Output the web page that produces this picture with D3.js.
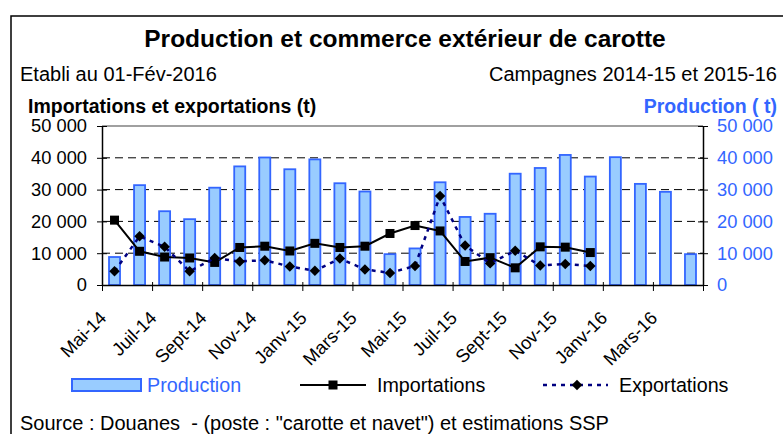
<!DOCTYPE html>
<html>
<head>
<meta charset="utf-8">
<script src="https://cdn.jsdelivr.net/npm/d3@7"></script>
<style>
  body { margin: 0; background: #fff; }
  svg text { font-family: "Liberation Sans", Arial, sans-serif; }
</style>
</head>
<body>
<div id="chart"></div>
<script>
// mois de campagne (mai 2014 -> avril 2016)
const mois = ["Mai-14", "Juin-14", "Juil-14", "Août-14", "Sept-14", "Oct-14", "Nov-14", "Déc-14",
  "Janv-15", "Févr-15", "Mars-15", "Avr-15", "Mai-15", "Juin-15", "Juil-15", "Août-15",
  "Sept-15", "Oct-15", "Nov-15", "Déc-15", "Janv-16", "Févr-16", "Mars-16", "Avr-16"];
const moisAffiches = ["Mai-14", "Juil-14", "Sept-14", "Nov-14", "Janv-15", "Mars-15",
  "Mai-15", "Juil-15", "Sept-15", "Nov-15", "Janv-16", "Mars-16"];

// tonnes
const production = [8800, 31400, 23200, 20700, 30600, 37300, 40100, 36400, 39500, 32000, 29400, 9700,
  11500, 32300, 21400, 22400, 35000, 36800, 40900, 34100, 40200, 31800, 29300, 9700];
const importations = [20400, 10600, 8800, 8500, 7100, 11800, 12200, 10700, 13100, 11800, 12200, 16200,
  18700, 17000, 7400, 8600, 5400, 12000, 11900, 10200];
const exportations = [4300, 15300, 12000, 4300, 8500, 7400, 7800, 5800, 4500, 8300, 4900, 3800,
  6000, 28000, 12400, 6800, 10800, 6100, 6600, 6000];

const yTicks = [0, 10000, 20000, 30000, 40000, 50000];
const gridTicks = [10000, 20000, 30000, 40000];

const blue = "#3366ff";
const width = 783, height = 434;
const margin = { top: 126, right: 80, bottom: 149, left: 102 };

const fr = d3.formatLocale({ decimal: ",", thousands: " ", grouping: [3], currency: ["", " €"] });
const fmt = fr.format(",");

const svg = d3.select("#chart").append("svg")
  .attr("width", width)
  .attr("height", height);

// cadre
svg.append("rect")
  .attr("x", 11).attr("y", 16)
  .attr("width", 900).attr("height", 600)
  .attr("fill", "none").attr("stroke", "#000").attr("stroke-width", 1.5);

const x = d3.scaleBand()
  .domain(mois)
  .range([margin.left, width - margin.right]);

const xPos = d3.scaleLinear()
  .domain([0, mois.length])
  .range([margin.left, width - margin.right]);

const y = d3.scaleLinear()
  .domain([0, 50000])
  .range([height - margin.bottom, margin.top]);

const yProd = d3.scaleLinear()
  .domain([0, 50000])
  .range([height - margin.bottom, margin.top]);

// titres
svg.append("text")
  .attr("x", 405).attr("y", 47)
  .attr("text-anchor", "middle")
  .style("font-size", "24.5px").style("font-weight", "bold")
  .text("Production et commerce extérieur de carotte");

svg.append("text")
  .attr("x", 20).attr("y", 81)
  .style("font-size", "20px")
  .text("Etabli au 01-Fév-2016");

svg.append("text")
  .attr("x", 777).attr("y", 81)
  .attr("text-anchor", "end")
  .style("font-size", "20px")
  .text("Campagnes 2014-15 et 2015-16");

svg.append("text")
  .attr("x", 28).attr("y", 113)
  .style("font-size", "19.5px").style("font-weight", "bold")
  .text("Importations et exportations (t)");

svg.append("text")
  .attr("x", 777).attr("y", 113)
  .attr("text-anchor", "end")
  .style("font-size", "19.5px").style("font-weight", "bold")
  .style("fill", blue)
  .text("Production ( t)");

// grille
svg.append("g")
  .selectAll("line")
  .data(gridTicks)
  .join("line")
  .attr("x1", margin.left).attr("x2", width - margin.right)
  .attr("y1", d => y(d)).attr("y2", d => y(d))
  .attr("stroke", "#000")
  .attr("stroke-dasharray", "8,5");

svg.append("line")
  .attr("x1", margin.left).attr("x2", width - margin.right)
  .attr("y1", y(50000)).attr("y2", y(50000))
  .attr("stroke", "#808080").attr("stroke-width", 1.5);

// barres production
const barW = x.bandwidth() * 0.44;
svg.append("g")
  .selectAll("rect")
  .data(production)
  .join("rect")
  .attr("x", (d, i) => x(mois[i]) + (x.bandwidth() - barW) / 2)
  .attr("y", d => yProd(d))
  .attr("width", barW)
  .attr("height", d => yProd(0) - yProd(d))
  .attr("fill", "#99ccff")
  .attr("stroke", blue)
  .attr("stroke-width", 1.8);

// axes
const axL = svg.append("g")
  .attr("transform", `translate(${margin.left},0)`)
  .call(d3.axisLeft(y).tickValues(yTicks).tickFormat(fmt).tickSize(5).tickPadding(10).tickSizeOuter(0));
axL.selectAll(".tick line").attr("x1", 5);
axL.selectAll("text").style("font-size", "18.3px").attr("fill", "#000");
axL.select(".domain").attr("stroke-width", 1.5);

const axR = svg.append("g")
  .attr("transform", `translate(${width - margin.right},0)`)
  .call(d3.axisRight(yProd).tickValues(yTicks).tickFormat(fmt).tickSize(5).tickPadding(9).tickSizeOuter(0));
axR.selectAll(".tick line").attr("x1", -5);
axR.selectAll("text").style("font-size", "18.3px").attr("fill", blue);
axR.select(".domain").attr("stroke-width", 1.5);

const axB = svg.append("g")
  .attr("transform", `translate(0,${height - margin.bottom})`)
  .call(d3.axisBottom(xPos).tickValues(d3.range(0, mois.length + 1, 2)).tickFormat("").tickSize(6).tickSizeOuter(0));
axB.selectAll(".tick line").attr("y1", -3);
axB.select(".domain").attr("stroke-width", 1.5);

svg.append("g")
  .selectAll("text")
  .data(moisAffiches)
  .join("text")
  .attr("transform", d => `translate(${x(d) + x.bandwidth() / 2 - 7},${height - margin.bottom + 34}) rotate(-45)`)
  .attr("text-anchor", "end")
  .style("font-size", "18.3px")
  .text(d => d);

// importations
const line = d3.line()
  .x((d, i) => x(mois[i]) + x.bandwidth() / 2)
  .y(d => y(d));

svg.append("path")
  .datum(importations)
  .attr("d", line)
  .attr("fill", "none")
  .attr("stroke", "#000")
  .attr("stroke-width", 2);

svg.append("g")
  .selectAll("rect")
  .data(importations)
  .join("rect")
  .attr("x", (d, i) => x(mois[i]) + x.bandwidth() / 2 - 4.5)
  .attr("y", d => y(d) - 4.5)
  .attr("width", 9).attr("height", 9)
  .attr("fill", "#000");

// exportations
svg.append("path")
  .datum(exportations)
  .attr("d", line)
  .attr("fill", "none")
  .attr("stroke", "#000080")
  .attr("stroke-width", 2.5)
  .attr("stroke-dasharray", "4,5");

const diamond = d3.symbol().type(d3.symbolDiamond2).size(70);
svg.append("g")
  .selectAll("path")
  .data(exportations)
  .join("path")
  .attr("transform", (d, i) => `translate(${x(mois[i]) + x.bandwidth() / 2},${y(d)})`)
  .attr("d", diamond)
  .attr("fill", "#000");

// légende
const legY = 385;
const leg = svg.append("g");
leg.append("rect")
  .attr("x", 72).attr("y", legY - 6).attr("width", 69).attr("height", 12)
  .attr("fill", "#99ccff").attr("stroke", blue).attr("stroke-width", 2);
leg.append("text")
  .attr("x", 147).attr("y", legY + 7)
  .style("font-size", "19.7px").style("fill", blue)
  .text("Production");

leg.append("line")
  .attr("x1", 300).attr("x2", 366).attr("y1", legY).attr("y2", legY)
  .attr("stroke", "#000").attr("stroke-width", 2);
leg.append("rect")
  .attr("x", 333 - 4.5).attr("y", legY - 4.5).attr("width", 9).attr("height", 9)
  .attr("fill", "#000");
leg.append("text")
  .attr("x", 377).attr("y", legY + 7)
  .style("font-size", "19.7px")
  .text("Importations");

leg.append("line")
  .attr("x1", 543).attr("x2", 608).attr("y1", legY).attr("y2", legY)
  .attr("stroke", "#000080").attr("stroke-width", 2.5)
  .attr("stroke-dasharray", "4,5");
leg.append("path")
  .attr("transform", `translate(577,${legY})`)
  .attr("d", diamond)
  .attr("fill", "#000");
leg.append("text")
  .attr("x", 619).attr("y", legY + 7)
  .style("font-size", "19.7px")
  .text("Exportations");

// source
svg.append("text")
  .attr("x", 20).attr("y", 430)
  .style("font-size", "20px")
  .style("white-space", "pre")
  .text("Source : Douanes  - (poste : \"carotte et navet\") et estimations SSP");
</script>
</body>
</html>
